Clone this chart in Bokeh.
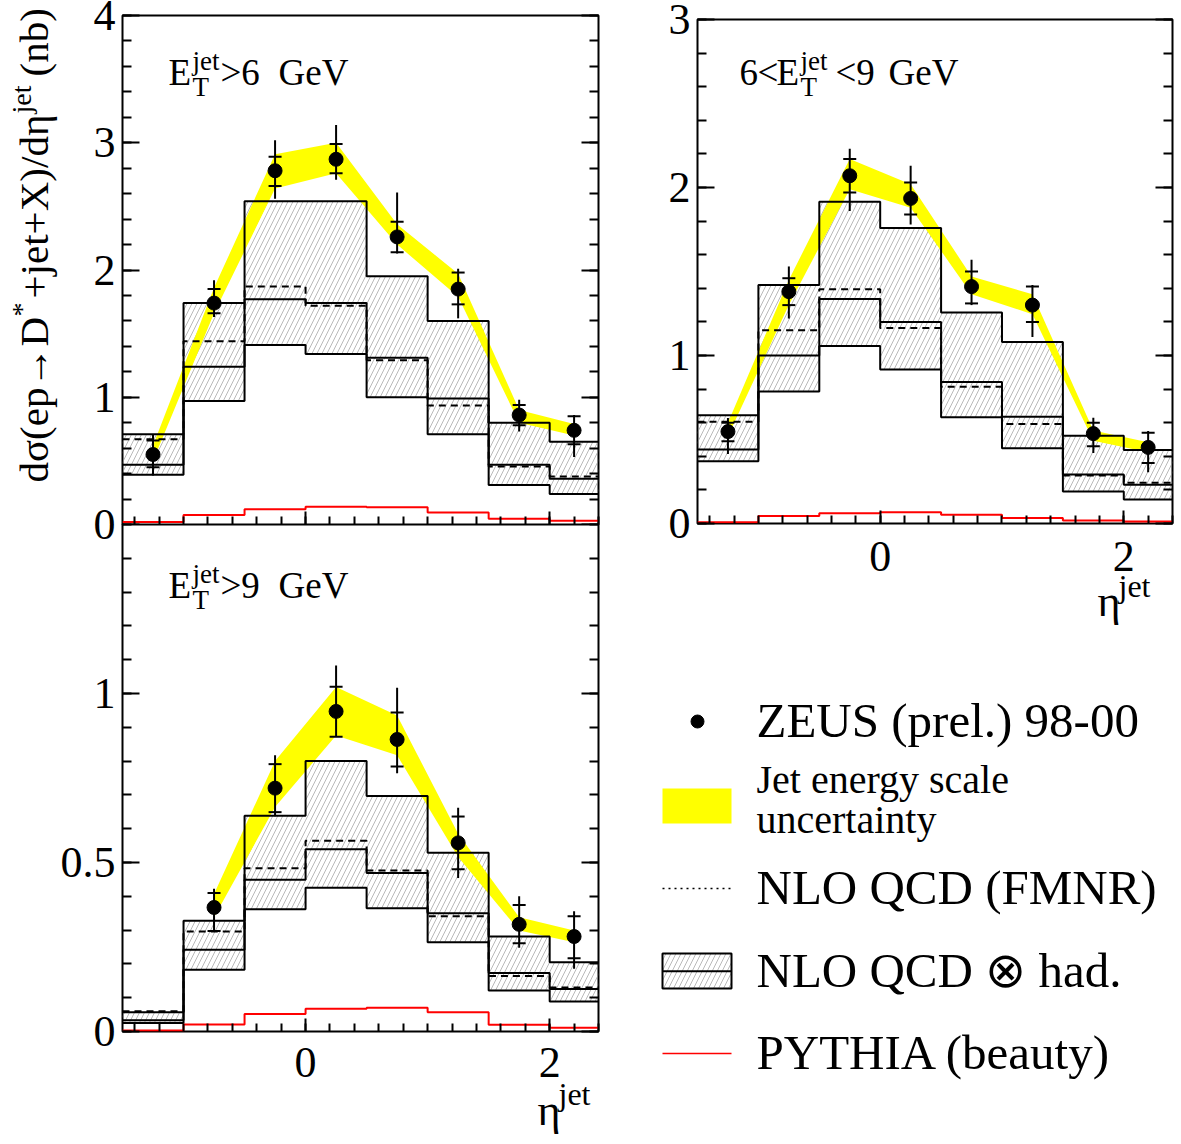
from math import pi
from bokeh.plotting import figure
from bokeh.models import Range1d, LinearAxis, FixedTicker, Label, NumeralTickFormatter
from bokeh.layouts import row, column
from bokeh.embed import file_html
from bokeh.resources import INLINE

FONT = "Liberation Serif"

# ---------------- data ----------------
edges = [-1.5, -1.0, -0.5, 0.0, 0.5, 1.0, 1.5, 2.0, 2.4]
centers = [-1.25, -0.75, -0.25, 0.25, 0.75, 1.25, 1.75, 2.2]

# Panel A: E_T^jet > 6 GeV
a_pts = [0.55, 1.74, 2.78, 2.87, 2.26, 1.85, 0.86, 0.74]
a_tot_lo = [0.385, 1.63, 2.56, 2.71, 2.13, 1.62, 0.73, 0.53]
a_tot_hi = [0.71, 1.92, 3.02, 3.14, 2.61, 2.01, 0.98, 0.86]
a_stat_lo = [0.45, 1.66, 2.66, 2.76, 2.14, 1.73, 0.78, 0.63]
a_stat_hi = [0.66, 1.85, 2.89, 2.99, 2.38, 1.98, 0.94, 0.85]
a_band_lo = [0.50, 1.66, 2.64, 2.76, 2.20, 1.79, 0.80, 0.70]
a_band_hi = [0.62, 1.86, 2.91, 3.00, 2.36, 1.97, 0.90, 0.79]
a_had_up = [0.71, 1.74, 2.54, 2.54, 1.95, 1.60, 0.80, 0.65]
a_had_mid = [0.47, 1.24, 1.77, 1.74, 1.31, 0.99, 0.47, 0.36]
a_had_lo = [0.39, 0.97, 1.41, 1.34, 1.00, 0.71, 0.31, 0.24]
a_nlo = [0.67, 1.44, 1.87, 1.72, 1.29, 0.935, 0.455, 0.377]
a_beauty = [0.02, 0.075, 0.12, 0.14, 0.135, 0.095, 0.045, 0.03]

# Panel B: 6 < E_T^jet < 9 GeV
b_pts = [0.547, 1.38, 2.07, 1.935, 1.41, 1.30, 0.535, 0.453]
b_tot_lo = [0.414, 1.22, 1.86, 1.78, 1.30, 1.11, 0.42, 0.305]
b_tot_hi = [0.628, 1.53, 2.23, 2.13, 1.57, 1.42, 0.63, 0.55]
b_stat_lo = [0.49, 1.30, 1.97, 1.84, 1.31, 1.20, 0.46, 0.36]
b_stat_hi = [0.60, 1.46, 2.17, 2.03, 1.50, 1.41, 0.60, 0.54]
b_band_lo = [0.52, 1.30, 1.99, 1.88, 1.365, 1.246, 0.493, 0.424]
b_band_hi = [0.60, 1.45, 2.17, 2.02, 1.47, 1.365, 0.553, 0.483]
b_had_up = [0.645, 1.42, 1.915, 1.759, 1.256, 1.08, 0.523, 0.438]
b_had_mid = [0.44, 1.00, 1.337, 1.20, 0.842, 0.636, 0.291, 0.23]
b_had_lo = [0.37, 0.786, 1.056, 0.917, 0.632, 0.448, 0.19, 0.143]
b_nlo = [0.606, 1.15, 1.394, 1.163, 0.814, 0.592, 0.285, 0.242]
b_beauty = [0.008, 0.044, 0.061, 0.067, 0.052, 0.032, 0.018, 0.012]

# Panel C: E_T^jet > 9 GeV (no data point in the first bin)
c_centers = [-0.75, -0.25, 0.25, 0.75, 1.25, 1.75, 2.2]
c_pts = [0.367, 0.72, 0.947, 0.864, 0.558, 0.317, 0.281]
c_tot_lo = [0.296, 0.637, 0.871, 0.764, 0.454, 0.248, 0.186]
c_tot_hi = [0.422, 0.817, 1.083, 1.017, 0.662, 0.40, 0.356]
c_stat_lo = [0.297, 0.649, 0.872, 0.784, 0.48, 0.261, 0.217]
c_stat_hi = [0.41, 0.791, 1.02, 0.944, 0.636, 0.374, 0.341]
c_band_lo = [0.338, 0.664, 0.876, 0.817, 0.516, 0.299, 0.264]
c_band_hi = [0.407, 0.80, 1.019, 0.935, 0.585, 0.338, 0.299]
c_had_up = [0.057, 0.328, 0.638, 0.80, 0.697, 0.529, 0.281, 0.205]
c_had_mid = [0.033, 0.242, 0.449, 0.539, 0.469, 0.35, 0.173, 0.126]
c_had_lo = [0.025, 0.183, 0.362, 0.425, 0.365, 0.264, 0.121, 0.089]
c_nlo = [0.06, 0.296, 0.483, 0.564, 0.476, 0.341, 0.164, 0.130]
c_beauty = [0.003, 0.021, 0.052, 0.067, 0.070, 0.057, 0.020, 0.011]

x_major = [0, 2]
x_minor = [round(-1.4 + 0.2 * i, 2) for i in range(20)]

legend_labels = ["ZEUS (prel.) 98-00", "Jet energy scale", "uncertainty",
                 "NLO QCD (FMNR)", "NLO QCD \u2297 had.", "PYTHIA (beauty)"]

HATCH = dict(hatch_pattern="/", hatch_color="#8a8a8a", hatch_scale=10, hatch_weight=0.6)


# ---------------- helpers ----------------
def no_align(p):
    if "frame_align" in p.properties():
        p.frame_align = False


def style_axis(ax, ticks, minor, labels, major_len, minor_len, size="44px", standoff=7):
    ax.ticker = FixedTicker(ticks=ticks, minor_ticks=minor)
    ax.formatter = NumeralTickFormatter(format="0.[0]")
    ax.axis_line_color = None
    ax.major_tick_in = major_len
    ax.major_tick_out = 0
    ax.minor_tick_in = minor_len
    ax.minor_tick_out = 0
    ax.major_tick_line_width = 2
    ax.minor_tick_line_width = 2
    ax.major_tick_line_color = "black"
    ax.minor_tick_line_color = "black"
    ax.axis_label = None
    if labels:
        ax.major_label_text_font = FONT
        ax.major_label_text_font_size = size
        ax.major_label_text_color = "black"
        ax.major_label_standoff = standoff
    else:
        ax.major_label_text_font_size = "1px"
        ax.major_label_text_color = None
        ax.major_label_standoff = 0


def make_panel(width, height, ml, mr, mt, mb, yr, y_major, y_minor, xlabels, xstand, **kw):
    p = figure(width=width, height=height, x_range=Range1d(edges[0], edges[-1]),
               y_range=Range1d(*yr), output_backend="svg", toolbar_location=None,
               min_border_left=ml, min_border_right=mr, min_border_top=mt,
               min_border_bottom=mb, **kw)
    no_align(p)
    p.grid.grid_line_color = None
    p.outline_line_color = "black"
    p.outline_line_width = 2
    p.outline_line_alpha = 1
    p.background_fill_color = "white"
    style_axis(p.yaxis[0], y_major, y_minor, True, 17, 9)
    style_axis(p.xaxis[0], x_major, x_minor, xlabels, 13, 8, standoff=xstand)
    ry = LinearAxis()
    style_axis(ry, y_major, y_minor, False, 17, 9)
    p.add_layout(ry, "right")
    return p


def draw(p, pc, pts, tlo, thi, slo, shi, blo, bhi, up, mid, lo, nlo, beauty):
    p.quad(left=edges[:-1], right=edges[1:], bottom=lo, top=up, fill_color=None,
           line_color=None, **HATCH)
    p.varea(x=pc, y1=blo, y2=bhi, fill_color="#ffff00")
    for vals, dash in ((up, "solid"), (lo, "solid"), (mid, "solid"), (nlo, "7 5")):
        p.step(x=edges, y=list(vals) + [vals[-1]], mode="after", line_color="black",
               line_width=2, line_dash=dash)
    p.step(x=edges, y=list(beauty) + [beauty[-1]], mode="after", line_color="#ff0000",
           line_width=2)
    p.segment(x0=pc, y0=tlo, x1=pc, y1=thi, line_color="black", line_width=2)
    p.scatter(x=list(pc) + list(pc), y=list(slo) + list(shi), marker="dash", size=13,
              line_color="black", line_width=2)
    p.scatter(x=pc, y=pts, marker="circle", size=14, fill_color="black",
              line_color="black")


# ---------------- panel A (top left) ----------------
pA = make_panel(640, 554, 122, 42, 15, 30, (0, 4), [0, 1, 2, 3, 4],
                [round(0.2 * i, 2) for i in range(21)], False, 0)
draw(pA, centers, a_pts, a_tot_lo, a_tot_hi, a_stat_lo, a_stat_hi, a_band_lo, a_band_hi,
     a_had_up, a_had_mid, a_had_lo, a_nlo, a_beauty)

# ---------------- panel C (bottom left), pulled up to join panel A ----------------
pC = make_panel(640, 618, 122, 42, 0, 111, (0, 1.5), [0, 0.5, 1],
                [round(0.1 * i, 2) for i in range(16)], True, 16, margin=(-30, 0, 0, 0))
pC.border_fill_alpha = 0
draw(pC, c_centers, c_pts, c_tot_lo, c_tot_hi, c_stat_lo, c_stat_hi, c_band_lo, c_band_hi,
     c_had_up, c_had_mid, c_had_lo, c_nlo, c_beauty)

# ---------------- panel B (top right) ----------------
pB = make_panel(540, 640, 57, 8, 19, 117, (0, 3), [0, 1, 2, 3],
                [round(0.2 * i, 2) for i in range(16)], True, 18)
draw(pB, centers, b_pts, b_tot_lo, b_tot_hi, b_stat_lo, b_stat_hi, b_band_lo, b_band_hi,
     b_had_up, b_had_mid, b_had_lo, b_nlo, b_beauty)

# ---------------- transparent overlay (page pixel coordinates) for free texts & legend ----
ov = figure(width=1181, height=1144, x_range=Range1d(0, 1181), y_range=Range1d(1144, 0),
            output_backend="svg", toolbar_location=None, min_border=0,
            x_axis_location=None, y_axis_location=None, margin=(-1144, 0, 0, 0))
no_align(ov)
ov.grid.grid_line_color = None
ov.outline_line_color = None
ov.background_fill_alpha = 0
ov.border_fill_alpha = 0

MID = 0.34  # distance (in em) from the alphabetic baseline to the text middle


def txt(px, py, text, size, vertical=False):
    """Place text whose alphabetic baseline starts at page pixel (px, py)."""
    if vertical:
        x, y, ang = px - MID * size, py, pi / 2
    else:
        x, y, ang = px, py - MID * size, 0.0
    ov.add_layout(Label(x=x, y=y, text=text, text_font=FONT, text_font_size=f"{size}px",
                        text_color="black", text_baseline="middle", text_align="left",
                        angle=ang))


# panel titles
for (x0, yb, rest) in ((168, 87, ">6"), (168, 600, ">9")):
    txt(x0, yb, "E", 37)
    txt(x0 + 24, yb + 11, "T", 27)
    txt(x0 + 24, yb - 15, "jet", 27)
    txt(x0 + 52, yb, rest, 37)
    txt(x0 + 110, yb, "GeV", 37)
for t, x in (("6", 739), ("<", 757), ("E", 776), ("<9", 835), ("GeV", 888)):
    txt(x, 87, t, 37)
txt(800, 98, "T", 27)
txt(800, 72, "jet", 27)

# axis titles
txt(537, 1127, "\u03b7", 44)
txt(558, 1106, "jet", 32)
txt(1097, 618, "\u03b7", 44)
txt(1118, 598, "jet", 32)
txt(47, 484, "d\u03c3(ep\u2192D", 41, vertical=True)
txt(31, 318, "*", 28, vertical=True)
txt(47, 300, "+jet+X)/d\u03b7", 41, vertical=True)
txt(31, 115, "jet", 28, vertical=True)
txt(47, 78, "(nb)", 41, vertical=True)

# legend keys
ov.scatter(x=[697], y=[723], marker="circle", size=13, fill_color="black", line_color="black")
ov.quad(left=[662], right=[731], top=[790], bottom=[825], fill_color="#ffff00", line_color=None)
ov.line(x=[662, 730], y=[890, 890], line_color="black", line_width=1.5, line_dash="2 4")
ov.quad(left=[662], right=[731], top=[955], bottom=[990], fill_color="white",
        line_color="black", line_width=2, **HATCH)
ov.line(x=[662, 731], y=[972.7, 972.7], line_color="black", line_width=2)
ov.line(x=[662, 731], y=[1055, 1055], line_color="#ff0000", line_width=1.5)
for ty, t, sz in zip((739, 795, 835, 906, 989, 1071), legend_labels, (49, 40, 40, 49, 49, 49)):
    txt(756, ty, t, sz)

layout = column(row(column(pA, pC), pB), ov)
open("out.html", "w").write(file_html(layout, INLINE))
